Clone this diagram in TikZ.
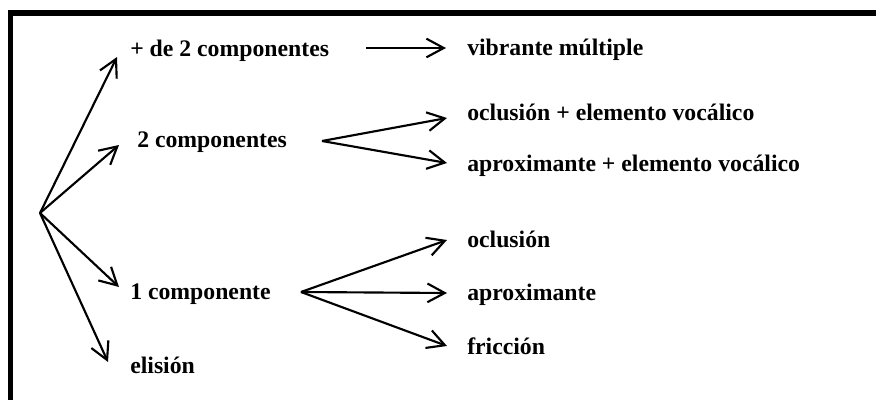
\documentclass[tikz,border=0pt]{standalone}
\usepackage{fontspec}
\setmainfont{Liberation Serif}
\usetikzlibrary{arrows.meta}
\begin{document}
\begin{tikzpicture}[x=0.75pt,y=-0.75pt,
  lbl/.style={anchor=base west,inner sep=0pt,font=\fontsize{17.8}{20}\selectfont\bfseries},
  arr/.style={line width=1.6pt,-{Straight Barb[length=13pt,width=14pt]}},
  frame/.style={line width=3.8pt}]
\useasboundingbox (0,0) rectangle (876,400);
\draw[frame] (10.5,402) -- (10.5,13) -- (878,13);
% labels
\node[lbl] (mas2) at (130,56) {+ de 2 componentes};
\node[lbl] (dos) at (137,147) {2 componentes};
\node[lbl] (uno) at (130,299) {1 componente};
\node[lbl] (eli) at (130,373) {elisión};
\node[lbl] (vib) at (467,55) {vibrante múltiple};
\node[lbl] (ocv) at (467,120) {oclusión + elemento vocálico};
\node[lbl] (apv) at (467,171) {aproximante + elemento vocálico};
\node[lbl] (ocl) at (467,247) {oclusión};
\node[lbl] (apr) at (467,300) {aproximante};
\node[lbl] (fri) at (467,354) {fricción};
% coordinates
\coordinate (o) at (40,213);
\coordinate (t1) at (117,57);
\coordinate (t2) at (119,145);
\coordinate (t3) at (119,287);
\coordinate (t4) at (108,362);
\coordinate (s0) at (366,48);
\coordinate (e0) at (446,48);
\coordinate (s1) at (322,141);
\coordinate (e1a) at (447,118);
\coordinate (e1b) at (447,163);
\coordinate (s2) at (301,292);
\coordinate (e2a) at (447,240);
\coordinate (e2b) at (447,293);
\coordinate (e2c) at (447,346);
% arrows
\draw[arr] (o) -- (t1);
\draw[arr] (o) -- (t2);
\draw[arr] (o) -- (t3);
\draw[arr] (o) -- (t4);
\draw[arr] (s0) -- (e0);
\draw[arr] (s1) -- (e1a);
\draw[arr] (s1) -- (e1b);
\draw[arr] (s2) -- (e2a);
\draw[arr] (s2) -- (e2b);
\draw[arr] (s2) -- (e2c);
\end{tikzpicture}
\end{document}
